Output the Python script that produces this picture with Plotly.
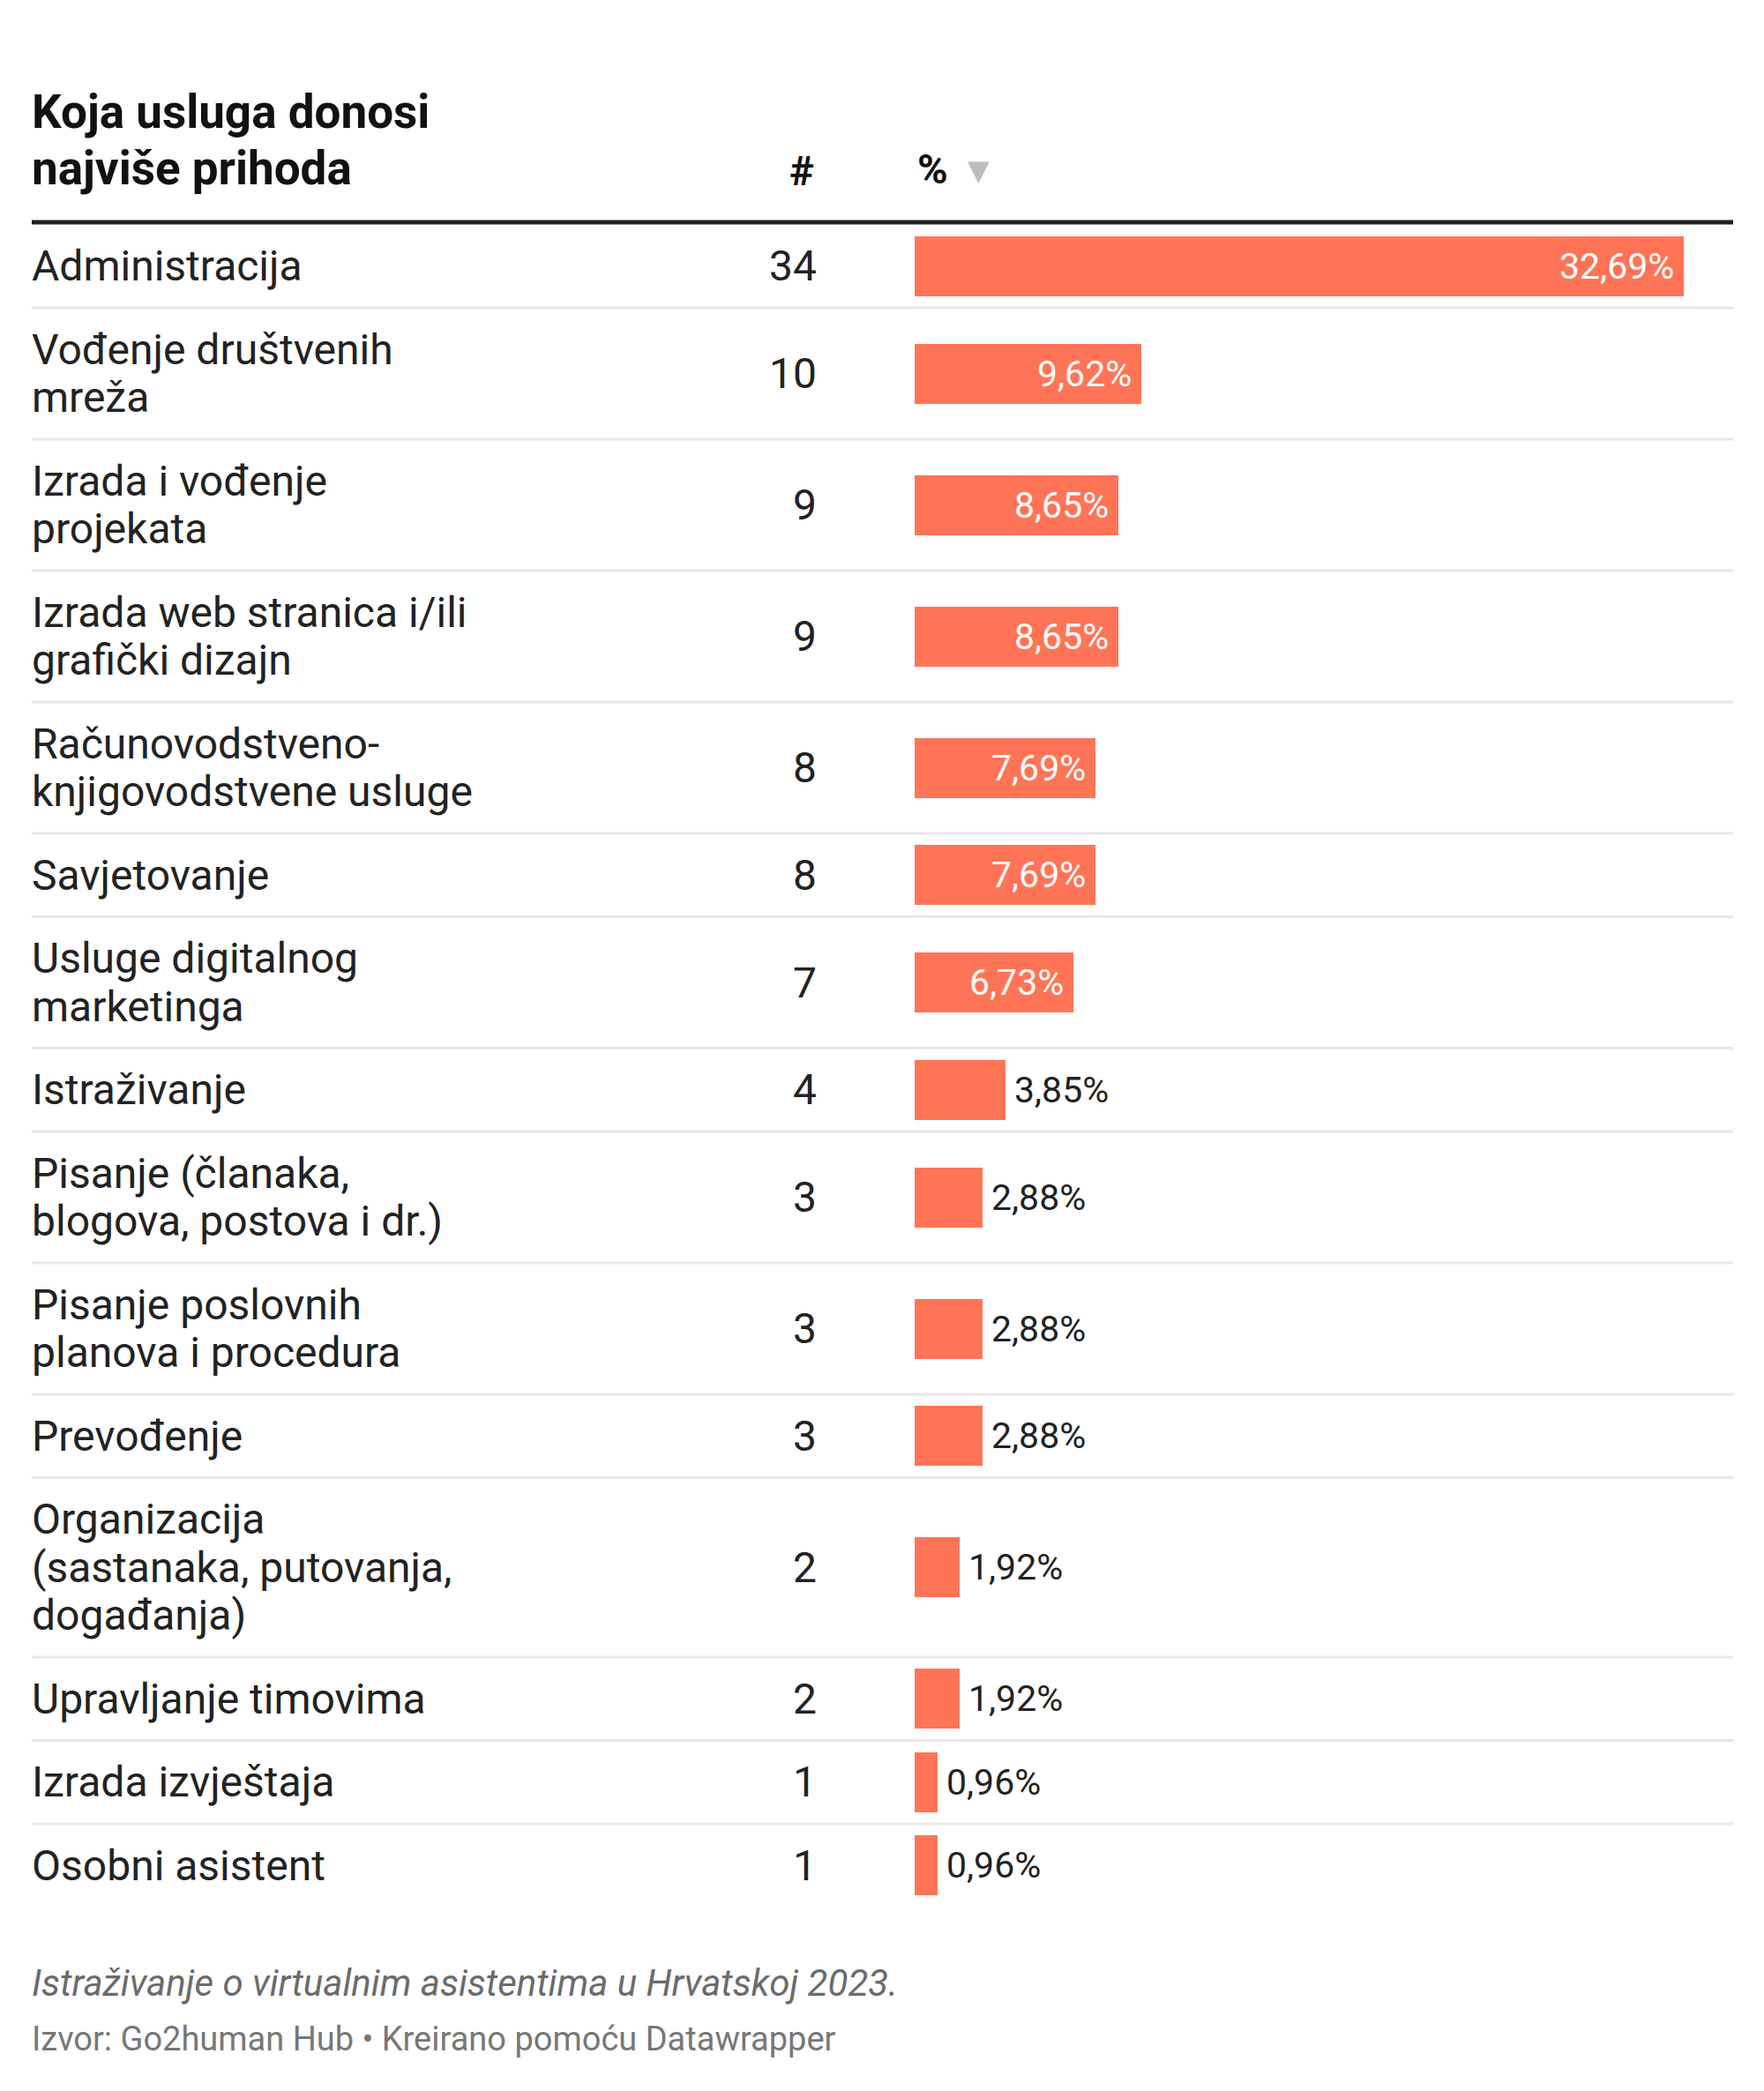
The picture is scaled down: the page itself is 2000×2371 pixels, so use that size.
import plotly.graph_objects as go

# ---- data ----
labels = [
    "Administracija",
    "Vođenje društvenih<br>mreža",
    "Izrada i vođenje<br>projekata",
    "Izrada web stranica i/ili<br>grafički dizajn",
    "Računovodstveno-<br>knjigovodstvene usluge",
    "Savjetovanje",
    "Usluge digitalnog<br>marketinga",
    "Istraživanje",
    "Pisanje (članaka,<br>blogova, postova i dr.)",
    "Pisanje poslovnih<br>planova i procedura",
    "Prevođenje",
    "Organizacija<br>(sastanaka, putovanja,<br>događanja)",
    "Upravljanje timovima",
    "Izrada izvještaja",
    "Osobni asistent",
]
counts = [34, 10, 9, 9, 8, 8, 7, 4, 3, 3, 3, 2, 2, 1, 1]
pct = [32.69, 9.62, 8.65, 8.65, 7.69, 7.69, 6.73, 3.85, 2.88, 2.88, 2.88, 1.92, 1.92, 0.96, 0.96]

title_lines = ["Koja usluga donosi", "najviše prihoda"]
col_count = "#"
col_pct = "%"
note = "Istraživanje o virtualnim asistentima u Hrvatskoj 2023."
source = "Izvor: Go2human Hub • Kreirano pomoću Datawrapper"

# ---- layout constants (screen pixels) ----
OFF = 8                      # default page body margin
WF, HF = 2000 - 2 * OFF, 2371 - 2 * OFF
LEFT = 36
RIGHT = 1965
NUM_RIGHT = 928
HDR_NUM_RIGHT = 925
BAR_X0 = 1037
BAR_X1 = 1909
TABLE_TOP = 254.5
PAD = 40
LH = 54.5
BAR_H = 68
FONT = "Roboto, 'Open Sans', Arial, sans-serif"
TXT = "#222222"
BAR_COLOR = "#ff7456"

def px(x):
    return (x - OFF) / WF

# row geometry from number of text lines
row_centers, row_bottoms = [], []
y = TABLE_TOP
for lab in labels:
    n = lab.count("<br>") + 1
    h = PAD + LH * n
    row_centers.append(y + h / 2)
    row_bottoms.append(y + h)
    y += h

fig = go.Figure()

fig.add_trace(go.Bar(
    x=pct,
    y=row_centers,
    orientation="h",
    width=BAR_H,
    marker=dict(color=BAR_COLOR, line=dict(width=0)),
    hoverinfo="skip",
    showlegend=False,
))

annotations = []
shapes = []

# title
title_centers = [126.5, 190.5]
for t, yc in zip(title_lines, title_centers):
    annotations.append(dict(
        x=px(LEFT - 2), y=yc, xref="paper", yref="y", text="<b>" + t + "</b>",
        xanchor="left", yanchor="middle", showarrow=False,
        font=dict(family=FONT, size=53, color="#111111"),
    ))

# column headers
annotations.append(dict(
    x=px(HDR_NUM_RIGHT), y=193, xref="paper", yref="y", text="<b>" + col_count + "</b>",
    xanchor="right", yanchor="middle", showarrow=False,
    font=dict(family=FONT, size=47, color="#111111"),
))
annotations.append(dict(
    x=px(1038), y=191, xref="paper", yref="y", text="<b>" + col_pct + "</b>",
    xanchor="left", yanchor="middle", showarrow=False,
    font=dict(family=FONT, size=47, color="#111111"),
))
annotations.append(dict(
    x=px(1109), y=193, xref="paper", yref="y", text="▼",
    xanchor="center", yanchor="middle", showarrow=False,
    font=dict(family="DejaVu Sans", size=32, color="#bdbdbd"),
))

# header rule
shapes.append(dict(
    type="line", xref="paper", yref="y", x0=px(LEFT), x1=px(RIGHT),
    y0=252, y1=252, line=dict(color="#222222", width=5),
))

vmax = max(pct)
for i, (lab, c, v) in enumerate(zip(labels, counts, pct)):
    yc = row_centers[i]
    lines = lab.split("<br>")
    n = len(lines)
    for k, ln in enumerate(lines):
        ly = yc + (k - (n - 1) / 2) * LH
        annotations.append(dict(
            x=px(LEFT - 2), y=ly, xref="paper", yref="y", text=ln,
            xanchor="left", yanchor="middle", showarrow=False,
            font=dict(family=FONT, size=48, color=TXT),
        ))
    annotations.append(dict(
        x=px(NUM_RIGHT), y=yc, xref="paper", yref="y", text=str(c),
        xanchor="right", yanchor="middle", showarrow=False,
        font=dict(family=FONT, size=48, color=TXT),
    ))
    lbl = f"{v:.2f}".replace(".", ",") + "%"
    inside = v >= 5
    annotations.append(dict(
        x=v, y=yc, xref="x", yref="y", text=lbl,
        xanchor="right" if inside else "left",
        xshift=-9 if inside else 8,
        yanchor="middle", showarrow=False,
        font=dict(family=FONT, size=41, color="#ffffff" if inside else TXT),
    ))
    if i < len(labels) - 1:
        shapes.append(dict(
            type="line", xref="paper", yref="y", x0=px(LEFT), x1=px(RIGHT),
            y0=row_bottoms[i], y1=row_bottoms[i], line=dict(color="#e8e8e8", width=3),
        ))

# footer
annotations.append(dict(
    x=px(LEFT - 2), y=2248, xref="paper", yref="y", text="<i>" + note + "</i>",
    xanchor="left", yanchor="middle", showarrow=False,
    font=dict(family=FONT, size=42, color="#6b6b6b"),
))
annotations.append(dict(
    x=px(LEFT - 2), y=2312, xref="paper", yref="y", text=source,
    xanchor="left", yanchor="middle", showarrow=False,
    font=dict(family=FONT, size=38, color="#777777"),
))

fig.update_layout(
    width=WF, height=HF,
    margin=dict(l=0, r=0, t=0, b=0),
    paper_bgcolor="white", plot_bgcolor="white",
    xaxis=dict(domain=[px(BAR_X0), px(BAR_X1)], range=[0, vmax],
               visible=False, fixedrange=True),
    yaxis=dict(domain=[0, 1], range=[OFF + HF, OFF], visible=False, fixedrange=True),
    annotations=annotations,
    shapes=shapes,
    bargap=0,
)

fig.write_html("out.html")
